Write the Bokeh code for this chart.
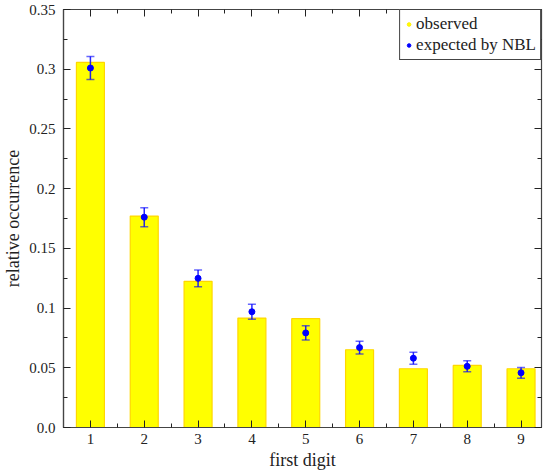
from bokeh.plotting import figure
from bokeh.models import (ColumnDataSource, Whisker, TeeHead, FixedTicker, LinearAxis,
                          CustomJSTickFormatter, Legend, LegendItem, Range1d,
                          CustomLabelingPolicy)
from bokeh.embed import file_html
from bokeh.resources import INLINE

digits = [1, 2, 3, 4, 5, 6, 7, 8, 9]
observed = [0.3057, 0.1770, 0.1224, 0.0916, 0.0911, 0.0651, 0.0492, 0.0520, 0.0492]
expected = [0.3010, 0.1761, 0.1249, 0.0969, 0.0792, 0.0669, 0.0580, 0.0512, 0.0458]
expected_err = [0.0096, 0.0080, 0.0070, 0.0063, 0.0059, 0.0053, 0.0050, 0.0046, 0.0045]
y_ticks = [0.0, 0.05, 0.1, 0.15, 0.2, 0.25, 0.3, 0.35]
y_minor = [0.025, 0.075, 0.125, 0.175, 0.225, 0.275, 0.325]
x_minor = [0.5, 1.5, 2.5, 3.5, 4.5, 5.5, 6.5, 7.5, 8.5, 9.5]

FONT = "Liberation Serif"
AX = "#444444"
TXT = "#222222"

src = ColumnDataSource(dict(
    x=digits, obs=observed, exp=expected,
    obs_mid=[o / 2 for o in observed],
    lo=[e - s for e, s in zip(expected, expected_err)],
    hi=[e + s for e, s in zip(expected, expected_err)],
))

p = figure(width=546, height=474, output_backend="svg", toolbar_location=None,
           x_range=Range1d(0.5, 9.38), y_range=Range1d(0, 0.35),
           min_border_top=9, min_border_right=2, min_border_left=63, min_border_bottom=47)
p.xgrid.visible = False
p.ygrid.visible = False
p.outline_line_color = AX
p.outline_line_width = 1.2
p.background_fill_color = "white"

# legend marker for the observed series (hidden under the bars)
r_obs = p.scatter(x="x", y="obs_mid", source=src, size=5, color="#ffff00",
                  line_color="#ffee00", level="underlay")

p.vbar(x="x", top="obs", width=0.52, source=src, fill_color="#ffff00",
       line_color="#ffd700", line_width=1.2)

w = Whisker(source=src, base="x", lower="lo", upper="hi", level="annotation",
            line_color="#0000ff", line_width=1.5, line_alpha=0.85,
            upper_head=TeeHead(size=8, line_color="#0000ff", line_width=1.5, line_alpha=0.6),
            lower_head=TeeHead(size=8, line_color="#0000ff", line_width=1.5, line_alpha=0.6))
p.add_layout(w)
r_exp = p.scatter(x="x", y="exp", source=src, size=6, color="#0000ff", level="overlay")

legend = Legend(items=[LegendItem(label="observed", renderers=[r_obs]),
                       LegendItem(label="expected by NBL", renderers=[r_exp])],
                location="top_right", label_text_font=FONT, label_text_font_size="17px",
                label_text_color=TXT, border_line_color=AX, border_line_width=1.2,
                border_line_alpha=1, background_fill_alpha=1, glyph_width=9, glyph_height=12,
                label_standoff=3, spacing=1, padding=4, margin=0, label_height=17)
p.add_layout(legend)

xt = FixedTicker(ticks=digits, minor_ticks=x_minor)
yt = FixedTicker(ticks=y_ticks, minor_ticks=y_minor)
yfmt = CustomJSTickFormatter(code="return tick == 0 ? '0.0' : String(+tick.toFixed(2));")

p.xaxis.ticker = xt
p.yaxis.ticker = yt
p.yaxis.formatter = yfmt

for ax in (p.xaxis[0], p.yaxis[0]):
    ax.major_tick_in = 7
    ax.major_tick_out = 0
    ax.minor_tick_in = 4
    ax.minor_tick_out = 0
    ax.axis_line_color = AX
    ax.axis_line_width = 1.2
    ax.major_tick_line_color = TXT
    ax.minor_tick_line_color = TXT
    ax.major_label_text_font = FONT
    ax.major_label_text_font_size = "15px"
    ax.major_label_text_color = TXT
    ax.axis_label_text_font = FONT
    ax.axis_label_text_font_size = "18px"
    ax.axis_label_text_font_style = "normal"
    ax.axis_label_text_color = TXT

p.xaxis.axis_label = "first digit"
p.yaxis.axis_label = "relative occurrence"
p.xaxis.major_label_standoff = 6
p.yaxis.major_label_standoff = 8
p.xaxis.axis_label_standoff = 3
p.yaxis.axis_label_standoff = 3

no_labels = CustomLabelingPolicy(code="for (const i of indices) indices.unset(i); return indices;")


def mirror_axis(ticker):
    return LinearAxis(ticker=ticker, major_label_text_font_size="1px",
                      major_label_policy=no_labels, axis_line_color=None,
                      major_tick_in=7, major_tick_out=0, minor_tick_in=4, minor_tick_out=0,
                      major_label_standoff=0, major_tick_line_color=TXT,
                      minor_tick_line_color=TXT)


p.add_layout(mirror_axis(xt), "above")
p.add_layout(mirror_axis(yt), "right")

open("out.html", "w").write(file_html(p, INLINE))
